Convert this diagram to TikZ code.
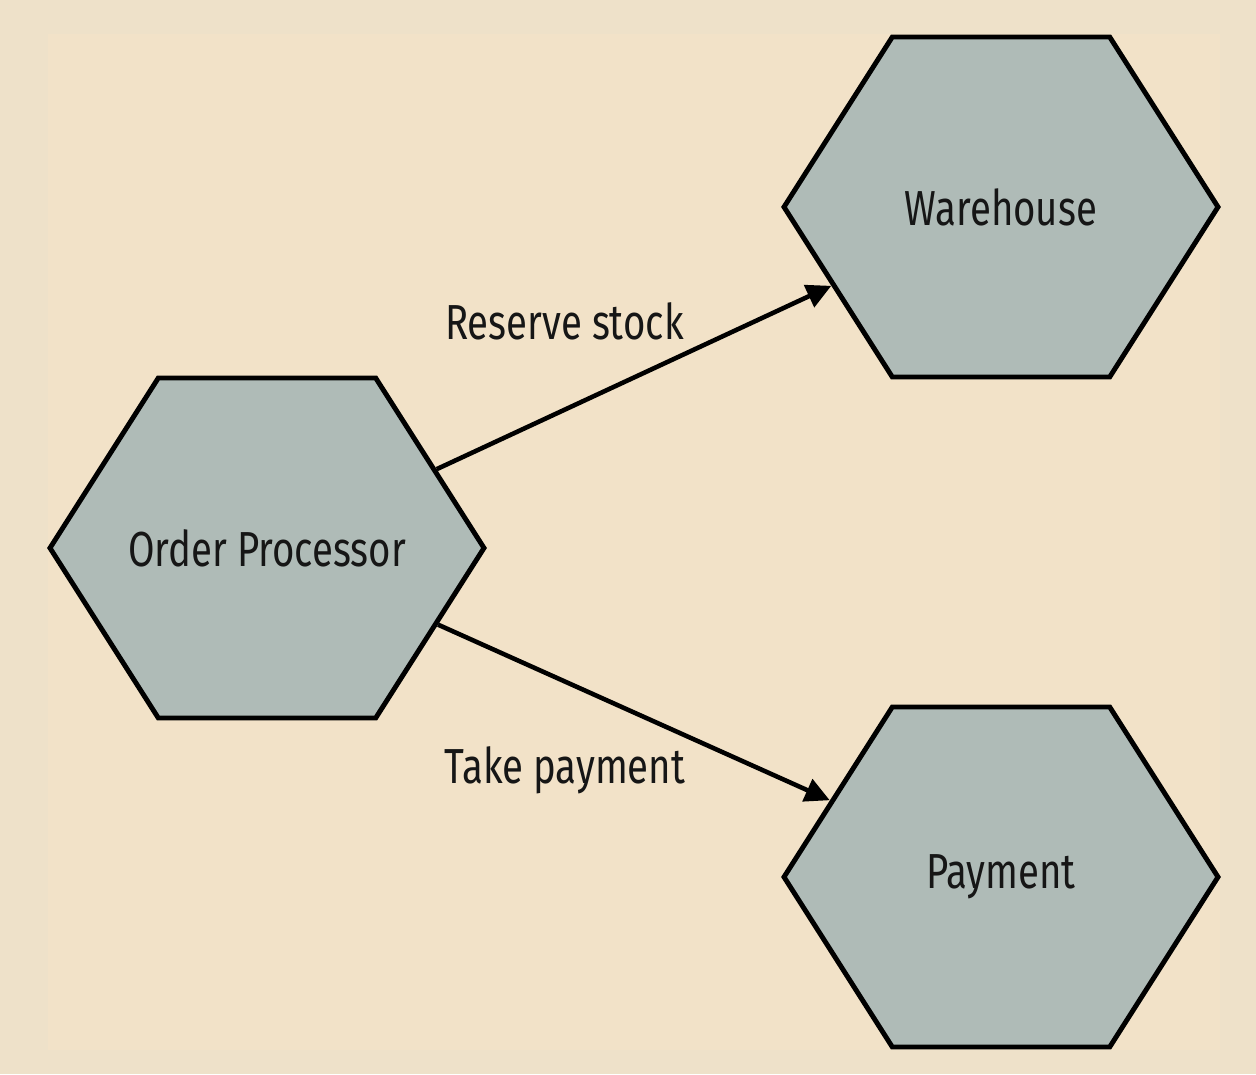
\documentclass[tikz,border=0pt]{standalone}
\usepackage{fontspec}
\setsansfont{Fira Sans}[FakeStretch=0.78]
\usetikzlibrary{shapes.symbols,arrows.meta}
\definecolor{pagebg}{HTML}{EEE1C9}
\definecolor{panelbg}{HTML}{F2E2C8}
\definecolor{hexfill}{HTML}{AFBBB7}
\definecolor{inktext}{HTML}{161616}
\begin{document}
\begin{tikzpicture}
    \pgfmathsetmacro{\picwidth}{25.12}
    \pgfmathsetmacro{\picheight}{21.48}
    \pgfmathsetmacro{\hexwidth}{8.68}
    \pgfmathsetmacro{\hexheight}{6.8}
    \providecommand{\labelfontsize}{\fontsize{28pt}{30pt}\selectfont}
    \providecommand{\servicename}[1]{\makebox[0pt]{#1}}
    \tikzset{
        service/.style={shape=signal,signal to=west and east,signal pointer angle=115,
            draw=black,line width=2.8pt,fill=hexfill,text=inktext,
            minimum width=\hexwidth cm,minimum height=\hexheight cm,inner sep=0,
            font=\sffamily\labelfontsize},
        call/.style={line width=2.6pt,-{Triangle[length=14pt,width=13.5pt]}},
        calllabel/.style={font=\sffamily\labelfontsize,text=inktext,inner sep=3pt}
    }
    % background and panel
    \fill[pagebg] (0,0) rectangle (\picwidth,\picheight);
    \fill[panelbg] (0.96,0.48) rectangle (24.4,20.8);
    % services
    \node[service] (order) at (5.34,10.52) {\servicename{Order Processor}};
    \node[service] (warehouse) at (20.02,17.34) {\servicename{Warehouse}};
    \node[service] (payment) at (20.02,3.94) {\servicename{Payment}};
    % calls
    \draw[call] (order) -- (warehouse) node[calllabel,pos=0.645,above left,yshift=2pt] {Reserve stock};
    \draw[call] (order) -- (payment) node[calllabel,pos=0.65,below left] {Take payment};
\end{tikzpicture}
\end{document}
